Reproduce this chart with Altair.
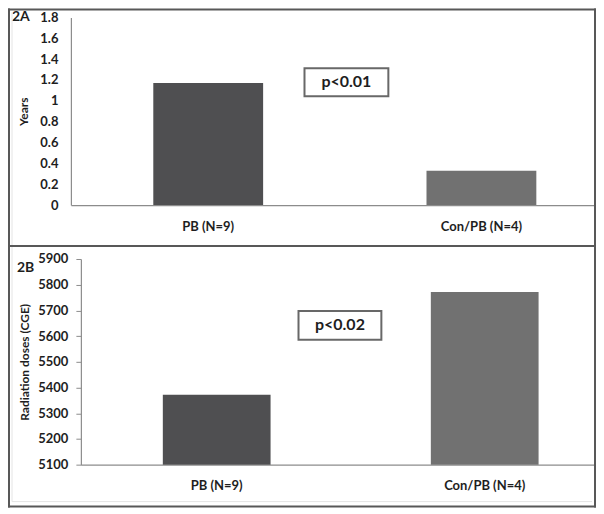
import altair as alt
import pandas as pd

categories = ["PB (N=9)", "Con/PB (N=4)"]
years = [1.17, 0.33]
doses = [5372, 5772]
years_ticks = [0, 0.2, 0.4, 0.6, 0.8, 1, 1.2, 1.4, 1.6, 1.8]
dose_ticks = [5100, 5200, 5300, 5400, 5500, 5600, 5700, 5800, 5900]
p_a = "p<0.01"
p_b = "p<0.02"
panel_a = "2A"
panel_b = "2B"
title_a = "Years"
title_b = "Radiation doses (CGE)"

FONT = "Lato"
TXT = "#1e1e1e"
AXC = "#8c8c8c"
FRAME = "#585858"
BOX = "#686868"
bar_colors = ["#4f4f51", "#717171"]

W, H = 589, 500          # whole framed figure
SEP = 238                # separator between the two panels

df_a = pd.DataFrame({"cat": categories, "val": years})
df_b = pd.DataFrame({"cat": categories, "val": doses})
one = alt.Data(values=[{}])


def xaxis(offset):
    return alt.Axis(title=None, ticks=False, labelAngle=0, labelPadding=15,
                    orient="bottom", offset=offset,
                    domainColor=AXC, domainWidth=1.2, labelFont=FONT,
                    labelFontSize=13, labelFontWeight="bold", labelColor=TXT)


def rule(x, y, x2=None, y2=None, color=FRAME, sw=2):
    enc = dict(x=alt.value(x), y=alt.value(y))
    if x2 is not None:
        enc["x2"] = alt.value(x2)
    if y2 is not None:
        enc["y2"] = alt.value(y2)
    return alt.Chart(one).mark_rule(color=color, strokeWidth=sw).encode(**enc)


def ptext(txt, x, y, size, align="center", baseline="middle"):
    return alt.Chart(one).mark_text(text=txt, font=FONT, fontSize=size, fontWeight="bold",
                                    color=TXT, align=align, baseline=baseline).encode(
        x=alt.value(x), y=alt.value(y))


def pbox(x, x2, y, y2):
    return alt.Chart(one).mark_rect(fill="white", stroke=BOX, strokeWidth=2).encode(
        x=alt.value(x), x2=alt.value(x2), y=alt.value(y), y2=alt.value(y2))


color_enc = alt.Color("cat:N", scale=alt.Scale(domain=categories, range=bar_colors), legend=None)

# ---------------- Panel A ----------------
bars_a = alt.Chart(df_a).mark_bar().encode(
    x=alt.X("cat:N", sort=categories,
            scale=alt.Scale(range=[63, W], paddingInner=0.598, paddingOuter=0.26, align=0.58),
            axis=xaxis(197 - H)),
    y=alt.Y("val:Q", scale=alt.Scale(domain=[0, 1.8], nice=False, range=[197, 9]),
            axis=alt.Axis(orient="left", offset=-63, values=years_ticks, format="~g",
                          ticks=False, grid=False, labelPadding=13, domainColor=AXC,
                          domainWidth=1.2, labelFont=FONT, labelFontSize=13,
                          labelFontWeight="bold", labelColor=TXT, title=title_a,
                          titleFont=FONT, titleFontSize=12, titleFontWeight="bold",
                          titleColor=TXT, titleX=-40)),
    y2=alt.datum(0),
    color=color_enc,
)
layer_a = alt.layer(
    bars_a,
    pbox(297, 381, 60, 88),
    ptext(p_a, 339, 74, 16),
    ptext(panel_a, 4, 12.5, 14, align="left", baseline="alphabetic"),
)

# ---------------- Panel B ----------------
bars_b = alt.Chart(df_b).mark_bar().encode(
    x=alt.X("cat:N", sort=categories,
            scale=alt.Scale(range=[73, W], paddingInner=0.598, paddingOuter=0.26, align=0.588),
            axis=xaxis(457 - H)),
    y=alt.Y("val:Q", scale=alt.Scale(domain=[5100, 5900], nice=False, range=[457, 251]),
            axis=alt.Axis(orient="left", offset=-73, values=dose_ticks, format="d",
                          ticks=True, tickSize=5, tickColor=AXC, grid=False,
                          labelPadding=8, domainColor=AXC, domainWidth=1.2,
                          labelFont=FONT, labelFontSize=13, labelFontWeight="bold",
                          labelColor=TXT, title=title_b, titleFont=FONT,
                          titleFontSize=12, titleFontWeight="bold", titleColor=TXT,
                          titleX=-49)),
    y2=alt.datum(5100),
    color=color_enc,
)
layer_b = alt.layer(
    bars_b,
    pbox(291, 374, 303, 332),
    ptext(p_b, 332.5, 317.5, 16),
    ptext(panel_b, 9, 264, 14, align="left", baseline="alphabetic"),
)

# ---------------- Frame ----------------
frame = alt.layer(
    rule(4, 4, y2=H - 6, color="#e4e4e4", sw=1),
    rule(4, H - 6, x2=W - 4, color="#e4e4e4", sw=1),
    rule(1, 0, y2=H),
    rule(W - 1, 0, y2=H),
    rule(0, 1, x2=W),
    rule(0, H - 1, x2=W),
    rule(0, SEP, x2=W),
)

chart = alt.layer(layer_a, layer_b, frame).resolve_scale(
    x="independent", y="independent"
).resolve_axis(x="independent", y="independent").properties(
    width=W, height=H, padding=0, background="white",
    autosize=alt.AutoSizeParams(type="none"),
).configure_view(stroke=None)

chart.save("out.html", embed_options={"renderer": "svg", "actions": False})
